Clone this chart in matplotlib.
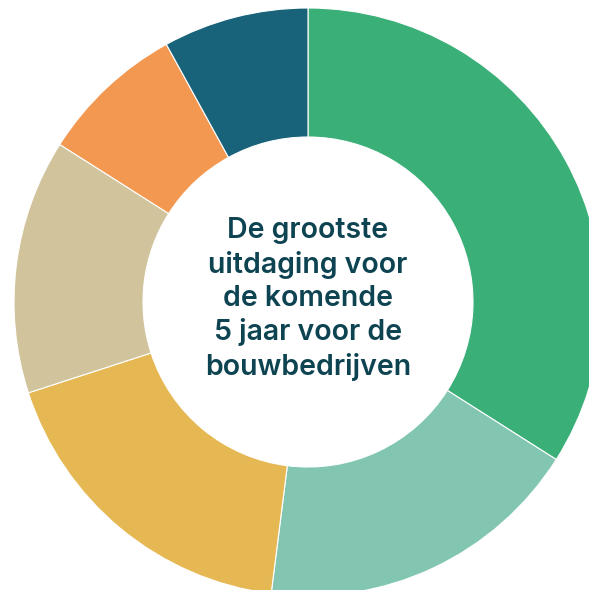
import matplotlib.pyplot as plt

categories = ["A", "B", "C", "D", "E", "F"]
values = [34, 18, 18, 14, 8, 8]
colors = ["#3AAF78", "#82C6B2", "#E5B853", "#D1C49C", "#F39851", "#18627A"]
center_text = "De grootste\nuitdaging voor\nde komende\n5 jaar voor de\nbouwbedrijven"

fig = plt.figure(figsize=(5.89, 5.90), dpi=100)
ax = fig.add_axes([0, 0, 1, 1])

R = 294
cx, cy = 308, 590 - 302
ax.pie(values, colors=colors, startangle=90, counterclock=False, radius=R,
       center=(cx, cy), frame=True,
       wedgeprops=dict(width=R - 165, edgecolor="white", linewidth=0.8))
ax.set_xlim(0, 589)
ax.set_ylim(0, 590)
ax.set_aspect("equal")
ax.axis("off")
ax.text(cx, cy + 3, center_text, ha="center", va="center", fontsize=20.5,
        fontweight="semibold", color="#0E4452", linespacing=1.3,
        family=["Inter", "DejaVu Sans"])
fig.savefig("out.png", dpi=100)
